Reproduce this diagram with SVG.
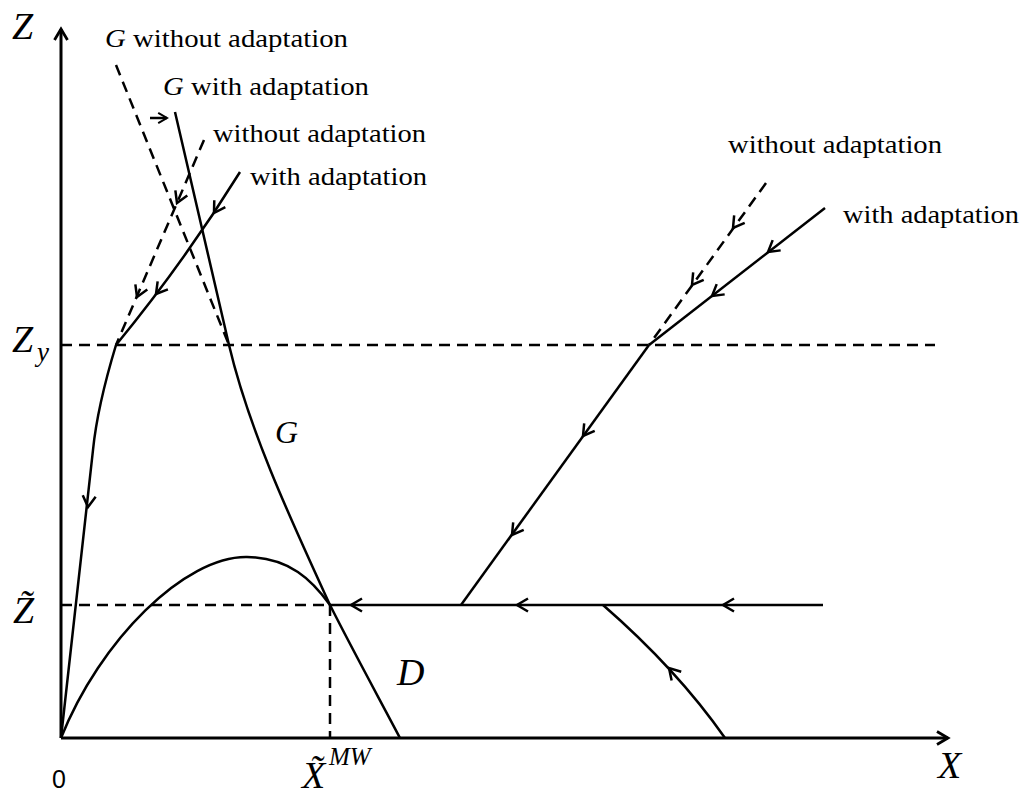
<svg xmlns="http://www.w3.org/2000/svg" xmlns:xlink="http://www.w3.org/1999/xlink" width="1026" height="794" viewBox="0 0 1026 794">
<style>
.ax{fill:none;stroke:#000;stroke-width:3}
.ln{fill:none;stroke:#000;stroke-width:2.5}
.ds{fill:none;stroke:#000;stroke-width:2.5;stroke-dasharray:11 7}
.ah{fill:none;stroke:#000;stroke-width:2.5;stroke-linejoin:miter}
.t{font-family:"Liberation Serif","Times New Roman",serif;font-size:26px;fill:#000}
.m{font-family:"Liberation Serif","Times New Roman",serif;font-style:italic;fill:#000}
.s{font-family:"Liberation Sans",Arial,sans-serif;fill:#000}
</style>
<defs>
<path id="ah" d="M-11,-6.5 L0,0 L-11,6.5"/>
</defs>
<rect width="1026" height="794" fill="#fff"/>
<g id="axes">
<path class="ax" d="M61,738 V29"/>
<path class="ax" d="M61,738 H948"/>
<use href="#ah" class="ah" transform="translate(61,29) rotate(-90)" style="stroke-width:2.8"/>
<use href="#ah" class="ah" transform="translate(948,738)" style="stroke-width:2.8"/>
</g>
<g id="guides">
<path class="ds" d="M61,345 H935"/>
<path class="ds" d="M61,605 H330"/>
<path class="ds" d="M330,605 V738"/>
</g>
<g id="connectors">
<path id="G-without" class="ds" d="M116,65 L229,345"/>
<path id="G-with" class="ln" d="M175,112 L229,345 C249,430 291,520 330,605"/>
<path id="D" class="ln" d="M61,738 C100,640 185,556 247,557 C290,558 312,580 330,605 C350,645 380,700 400,738"/>
<path id="G-arrow" class="ln" d="M150,118 H167"/>
<use href="#ah" class="ah" transform="translate(167,118) scale(0.8)"/>
<path id="left-without" class="ds" d="M204,140 L116,345"/>
<use href="#ah" class="ah" transform="translate(177,203) rotate(113.2)"/>
<use href="#ah" class="ah" transform="translate(137,297) rotate(113.2)"/>
<path id="left-with" class="ln" d="M240,172 Q184.5,261.5 116,345"/>
<use href="#ah" class="ah" transform="translate(214,213) rotate(121.8)"/>
<use href="#ah" class="ah" transform="translate(156,294) rotate(128)"/>
<path id="left-down" class="ln" d="M116,345 C106,378 96,420 93,450 L61,738"/>
<use href="#ah" class="ah" transform="translate(88,507) rotate(96.3)"/>
<path id="right-without" class="ds" d="M766,183 L649,345"/>
<use href="#ah" class="ah" transform="translate(733,228) rotate(125.8)"/>
<use href="#ah" class="ah" transform="translate(692,285) rotate(125.8)"/>
<path id="right-with" class="ln" d="M825,208 L649,345"/>
<use href="#ah" class="ah" transform="translate(768,252) rotate(142.1)"/>
<use href="#ah" class="ah" transform="translate(712,296) rotate(142.1)"/>
<path id="right-down" class="ln" d="M649,345 L461,605"/>
<use href="#ah" class="ah" transform="translate(583,436) rotate(125.9)"/>
<use href="#ah" class="ah" transform="translate(512,535) rotate(125.9)"/>
<path id="horizontal" class="ln" d="M823,605 H330"/>
<use href="#ah" class="ah" transform="translate(351,605) rotate(180)"/>
<use href="#ah" class="ah" transform="translate(517,605) rotate(180)"/>
<use href="#ah" class="ah" transform="translate(723,605) rotate(180)"/>
<path id="bottom-up" class="ln" d="M725,738 Q676.8,669.2 603,605"/>
<use href="#ah" class="ah" transform="translate(669,668) rotate(-132.5)"/>
</g>
<g id="labels">
<g id="lbl-G-without"><text class="t" x="105" y="47" textLength="243" lengthAdjust="spacingAndGlyphs"><tspan font-style="italic">G</tspan> without adaptation</text></g>
<g id="lbl-G-with"><text class="t" x="163" y="95" textLength="206" lengthAdjust="spacingAndGlyphs"><tspan font-style="italic">G</tspan> with adaptation</text></g>
<g id="lbl-left-without"><text class="t" x="213" y="142" textLength="213" lengthAdjust="spacingAndGlyphs">without adaptation</text></g>
<g id="lbl-left-with"><text class="t" x="250" y="185" textLength="177" lengthAdjust="spacingAndGlyphs">with adaptation</text></g>
<g id="lbl-right-without"><text class="t" x="728" y="153" textLength="214" lengthAdjust="spacingAndGlyphs">without adaptation</text></g>
<g id="lbl-right-with"><text class="t" x="843" y="223" textLength="176" lengthAdjust="spacingAndGlyphs">with adaptation</text></g>
<g id="lbl-Z"><text class="m" x="12" y="39" font-size="38">Z</text></g>
<g id="lbl-Zy"><text class="m" x="12" y="352" font-size="38">Z</text><text class="m" x="37" y="361" font-size="27">y</text></g>
<g id="lbl-Zt"><text class="m" x="13" y="623" font-size="38">Z̃</text></g>
<g id="lbl-G"><text class="m" x="275" y="443" font-size="32">G</text></g>
<g id="lbl-D"><text class="m" x="397" y="685" font-size="38">D</text></g>
<g id="lbl-0"><text class="s" x="52" y="788" font-size="25">0</text></g>
<g id="lbl-Xt"><text class="m" x="302" y="788" font-size="38">X̃</text><text class="m" x="329" y="765" font-size="25">MW</text></g>
<g id="lbl-X"><text class="m" x="938" y="778" font-size="38">X</text></g>
</g>
</svg>
